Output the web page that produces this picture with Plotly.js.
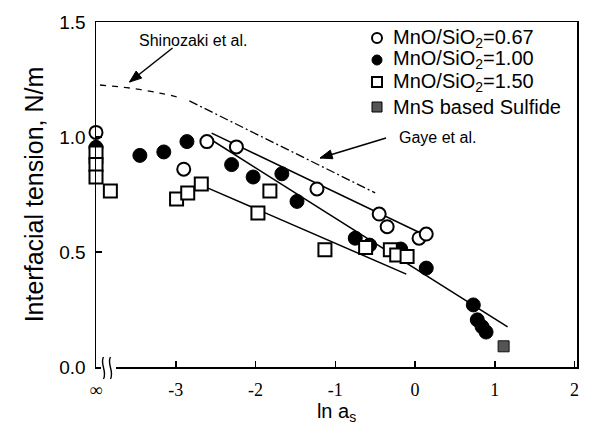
<!DOCTYPE html>
<html>
<head>
<meta charset="utf-8">
<script src="https://cdn.plot.ly/plotly-3.0.1.min.js"></script>
<style>html,body{margin:0;padding:0;background:#fff;}#chart{width:590px;height:426px;}</style>
</head>
<body>
<div id="chart"></div>
<script>
// ---- data ----
const INF_X = -4.0; // position used for "∞" on the ln a_s axis
const r067_x = [INF_X, INF_X, -2.90, -2.61, -2.24, -1.23, -0.45, -0.35, 0.05, 0.14];
const r067_y = [1.02, 0.89, 0.86, 0.98, 0.957, 0.774, 0.665, 0.61, 0.56, 0.578];

const r100_x = [INF_X, -3.45, -3.15, -2.86, -2.30, -2.03, -1.67, -1.48, -0.75, -0.57, -0.18, 0.14, 0.73, 0.78, 0.84, 0.89];
const r100_y = [0.955, 0.92, 0.935, 0.98, 0.88, 0.826, 0.84, 0.72, 0.56, 0.53, 0.513, 0.43, 0.27, 0.205, 0.175, 0.152];

const r150_x = [INF_X, INF_X, INF_X, -3.82, -2.99, -2.85, -2.68, -1.97, -1.82, -1.13, -0.62, -0.31, -0.23, -0.10];
const r150_y = [0.93, 0.88, 0.826, 0.765, 0.73, 0.757, 0.796, 0.67, 0.765, 0.51, 0.52, 0.51, 0.487, 0.48];

const mns_x = [1.11];
const mns_y = [0.09];

const fit067_x = [-2.55, 0.12], fit067_y = [1.017, 0.574];
const fit100_x = [-2.61, 1.16], fit100_y = [1.0, 0.174];
const fit150_x = [-2.61, -0.11], fit150_y = [0.78, 0.404];

const shinozaki_x = [-3.95, -3.58, -3.20, -2.93];
const shinozaki_y = [1.226, 1.213, 1.191, 1.17];
const gaye_x = [-2.83, -0.50];
const gaye_y = [1.157, 0.757];

// arrow [tail, head] in data units
const shinoArrow_x = [-3.04, -3.58], shinoArrow_y = [1.387, 1.239];
const gayeArrow_x = [-0.364, -1.19], gayeArrow_y = [0.996, 0.909];

const xTickVals = [INF_X, -3, -2, -1, 0, 1, 2];
const xTickText = ['∞', '-3', '-2', '-1', '0', '1', '2'];
const yTickVals = [0, 0.5, 1.0, 1.5];

const legendNames = ['MnO/SiO<sub>2</sub>=0.67', 'MnO/SiO<sub>2</sub>=1.00', 'MnO/SiO<sub>2</sub>=1.50', 'MnS based Sulfide'];

// ---- geometry helpers (plot area in pixels) ----
const W = 590, H = 426, M = {l: 96, r: 13, t: 22, b: 59};
const XR = [-4.0, 2.03], YR = [0, 1.5];
const pw = W - M.l - M.r, ph = H - M.t - M.b;
const x2px = v => M.l + (v - XR[0]) / (XR[1] - XR[0]) * pw;
const y2px = v => M.t + ph - (v - YR[0]) / (YR[1] - YR[0]) * ph;
const px2x = p => XR[0] + (p - M.l) / pw * (XR[1] - XR[0]);
const px2y = p => YR[0] + (M.t + ph - p) / ph * (YR[1] - YR[0]);
const px2paperX = p => (p - M.l) / pw;
const px2paperY = p => (M.t + ph - p) / ph;

// ---- traces ----
const lineStyle = {color: '#000', width: 1.5};
const traces = [
  {x: fit067_x, y: fit067_y, mode: 'lines', line: lineStyle, showlegend: false, hoverinfo: 'skip'},
  {x: fit100_x, y: fit100_y, mode: 'lines', line: lineStyle, showlegend: false, hoverinfo: 'skip'},
  {x: fit150_x, y: fit150_y, mode: 'lines', line: lineStyle, showlegend: false, hoverinfo: 'skip'},
  {x: shinozaki_x, y: shinozaki_y, mode: 'lines', line: {color: '#000', width: 1.3, dash: '6px,6px', shape: 'spline'}, showlegend: false, name: 'Shinozaki et al.'},
  {x: gaye_x, y: gaye_y, mode: 'lines', line: {color: '#000', width: 1.3, dash: '9px,3px,2px,3px'}, showlegend: false, name: 'Gaye et al.'},
  {x: shinoArrow_x, y: shinoArrow_y, mode: 'lines', line: {color: '#000', width: 1.5}, showlegend: false, hoverinfo: 'skip'},
  {x: gayeArrow_x, y: gayeArrow_y, mode: 'lines', line: {color: '#000', width: 1.5}, showlegend: false, hoverinfo: 'skip'},
  {x: r067_x, y: r067_y, mode: 'markers', name: legendNames[0], showlegend: false, cliponaxis: false,
   marker: {symbol: 'circle', size: 13, color: '#fff', line: {color: '#000', width: 2}}},
  {x: r100_x, y: r100_y, mode: 'markers', name: legendNames[1], showlegend: false, cliponaxis: false,
   marker: {symbol: 'circle', size: 14, color: '#000', line: {color: '#000', width: 1}}},
  {x: r150_x, y: r150_y, mode: 'markers', name: legendNames[2], showlegend: false, cliponaxis: false,
   marker: {symbol: 'square', size: 13, color: '#fff', line: {color: '#000', width: 2}}},
  {x: mns_x, y: mns_y, mode: 'markers', name: legendNames[3], showlegend: false, cliponaxis: false,
   marker: {symbol: 'square', size: 11, color: '#555', line: {color: '#111', width: 1}}}
];

const shapes = [];
const annotations = [];

// ---- legend drawn manually (tight line spacing like the reference) ----
const legMarkPx = 377, legTextPx = 392;
const legRowPx = [38, 60, 82, 107];
const legStyles = [
  {type: 'circle', fill: '#fff', lw: 2},
  {type: 'circle', fill: '#000', lw: 1},
  {type: 'rect', fill: '#fff', lw: 2},
  {type: 'rect', fill: '#555', lw: 1}
];
legStyles.forEach((s, i) => {
  shapes.push({type: s.type, xref: 'paper', yref: 'paper', xsizemode: 'pixel', ysizemode: 'pixel',
    xanchor: px2paperX(legMarkPx), yanchor: px2paperY(legRowPx[i]), x0: -5, x1: 5, y0: -5, y1: 5,
    fillcolor: s.fill, line: {color: '#000', width: s.lw}});
  annotations.push({xref: 'paper', yref: 'paper', x: px2paperX(legTextPx), y: px2paperY(legRowPx[i]),
    xanchor: 'left', yanchor: 'middle', borderpad: 0,
    text: legendNames[i], showarrow: false, font: {family: 'Liberation Sans, Arial, sans-serif', size: 20, color: '#000'}});
});

// ---- arrowheads (filled narrow triangles) ----
function arrowHead(xs, ys) {
  const tx = x2px(xs[0]), ty = y2px(ys[0]), hx = x2px(xs[1]), hy = y2px(ys[1]);
  const len = Math.hypot(hx - tx, hy - ty), ux = (hx - tx) / len, uy = (hy - ty) / len;
  const L = 12, Wd = 4.5;
  const bx = hx - ux * L, by = hy - uy * L;
  const p1 = [bx - uy * Wd, by + ux * Wd], p2 = [bx + uy * Wd, by - ux * Wd];
  const f = p => px2x(p[0]).toFixed(4) + ',' + px2y(p[1]).toFixed(4);
  return {type: 'path', xref: 'x', yref: 'y', layer: 'above',
    path: 'M ' + f([hx, hy]) + ' L ' + f(p1) + ' L ' + f(p2) + ' Z',
    fillcolor: '#000', line: {color: '#000', width: 1}};
}
shapes.push(arrowHead(shinoArrow_x, shinoArrow_y));
shapes.push(arrowHead(gayeArrow_x, gayeArrow_y));

// ---- axis break on the bottom axis ----
const P = (x, y) => px2paperX(x).toFixed(4) + ',' + px2paperY(y).toFixed(4);
shapes.push({type: 'rect', xref: 'paper', yref: 'paper', x0: px2paperX(101), x1: px2paperX(116),
  y0: px2paperY(370), y1: px2paperY(364), fillcolor: '#fff', line: {width: 0}, layer: 'above'});
[102.5, 109.5].forEach(x0 => {
  shapes.push({type: 'path', xref: 'paper', yref: 'paper', layer: 'above',
    path: 'M ' + P(x0 + 1, 357) + ' C ' + P(x0 - 3, 364) + ' ' + P(x0 + 5, 371) + ' ' + P(x0 + 1, 379),
    line: {color: '#000', width: 1.4}});
});

// ---- text labels ----
const noteFont = {family: 'Liberation Sans, Arial, sans-serif', size: 16, color: '#000'};
annotations.push({x: px2x(193), y: px2y(40), xref: 'x', yref: 'y', text: 'Shinozaki et al.', showarrow: false, font: noteFont});
annotations.push({x: px2x(397), y: px2y(137), xref: 'x', yref: 'y', xanchor: 'left', text: 'Gaye et al.', showarrow: false, font: noteFont});

const layout = {
  width: W, height: H,
  margin: {l: M.l, r: M.r, t: M.t, b: M.b, pad: 0},
  paper_bgcolor: '#fff', plot_bgcolor: '#fff',
  showlegend: false,
  xaxis: {
    range: XR, tickvals: xTickVals, ticktext: xTickText,
    ticks: 'inside', ticklen: 6, tickwidth: 1.5, tickcolor: '#000', ticklabelstandoff: 6,
    showline: true, linecolor: '#000', linewidth: 1.5, mirror: true,
    showgrid: false, zeroline: false,
    tickfont: {family: 'Liberation Serif, Times New Roman, serif', size: 18, color: '#000'},
    title: {text: 'ln a<sub>s</sub>', font: {family: 'Liberation Sans, Arial, sans-serif', size: 20, color: '#000'}, standoff: 4}
  },
  yaxis: {
    range: YR, tickvals: yTickVals, tickformat: '.1f',
    ticks: 'inside', ticklen: 6, tickwidth: 1.5, tickcolor: '#000', ticklabelstandoff: 5,
    showline: true, linecolor: '#000', linewidth: 1.5, mirror: true,
    showgrid: false, zeroline: false,
    tickfont: {family: 'Liberation Sans, Arial, sans-serif', size: 19, color: '#000'},
    title: {text: 'Interfacial tension, N/m', font: {family: 'Liberation Sans, Arial, sans-serif', size: 25, color: '#000'}, standoff: 8}
  },
  shapes: shapes,
  annotations: annotations
};

Plotly.newPlot('chart', traces, layout, {staticPlot: true, displayModeBar: false});
</script>
</body>
</html>
